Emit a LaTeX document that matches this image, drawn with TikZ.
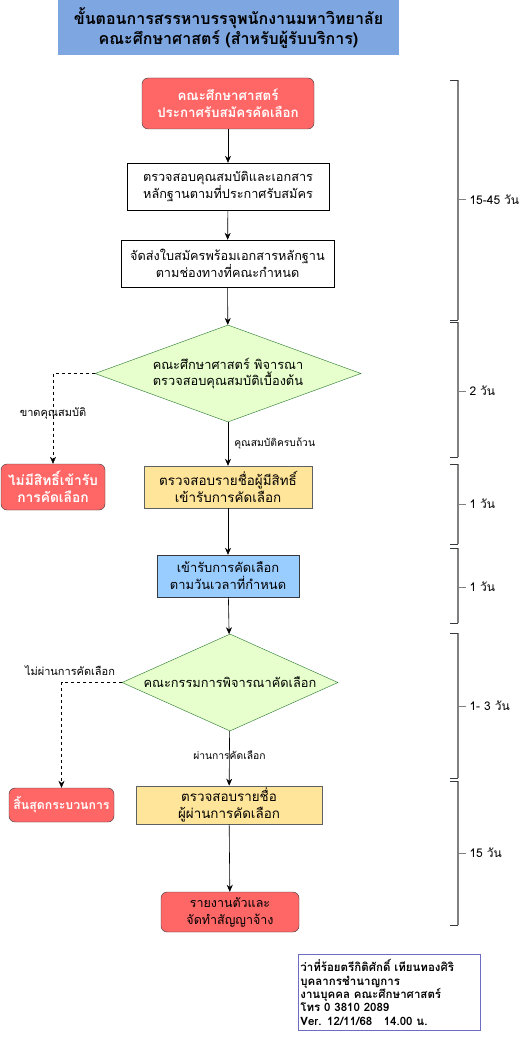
\documentclass[tikz,border=0pt]{standalone}
\usepackage{fontspec}
\setmainfont{Loma}[Script=Thai]
\usepackage{tikz}
\usetikzlibrary{arrows.meta,positioning,shapes.geometric}
\definecolor{titleblue}{HTML}{7EA6E0}
\definecolor{redbox}{HTML}{FF6666}
\definecolor{greenbox}{HTML}{E6FFCC}
\definecolor{yellowbox}{HTML}{FFE599}
\definecolor{bluebox}{HTML}{99CCFF}
\definecolor{darkline}{HTML}{36393D}
\definecolor{sigline}{HTML}{6C6CC4}

\tikzset{
  stepbox/.style={draw=black, fill=white, align=center, inner sep=2pt, font=\fontsize{12.7}{16.7}\selectfont},
  redstep/.style={stepbox, fill=redbox, draw=darkline, rounded corners=6pt, text=white},
  decision/.style={diamond, aspect=2.75, draw=darkline!70!green, fill=greenbox, align=center, inner sep=0pt, font=\fontsize{12.8}{16.7}\selectfont},
  flow/.style={-{Stealth[length=7pt,width=6pt]}, semithick, black},
  noflow/.style={flow, dashed, thin},
  smalllabel/.style={font=\fontsize{10.3}{12}\selectfont, inner sep=1pt},
  spanline/.style={gray, line width=1.3pt}
}

\begin{document}
\begin{tikzpicture}[x=1pt, y=-1pt]
  \useasboundingbox[fill=white] (0,0) rectangle (522,1040);

  % === Title ===
  \node[fill=titleblue, minimum width=341pt, minimum height=55pt, align=center,
        font=\bfseries\fontsize{16}{20}\selectfont] (title) at (228.5,27.5)
    {ขั้นตอนการสรรหาบรรจุพนักงานมหาวิทยาลัย\\คณะศึกษาศาสตร์ (สำหรับผู้รับบริการ)};

  % === Main flow ===
  \node[redstep, minimum width=172pt, minimum height=51pt,
        font=\bfseries\fontsize{13.3}{17}\selectfont] (announce) at (228,103.5)
    {คณะศึกษาศาสตร์\\ประกาศรับสมัครคัดเลือก};
  \node[stepbox, minimum width=202pt, minimum height=47pt] (checkdocs) at (228,186.5)
    {ตรวจสอบคุณสมบัติและเอกสาร\\หลักฐานตามที่ประกาศรับสมัคร};
  \node[stepbox, minimum width=213pt, minimum height=47pt] (senddocs) at (227.5,263.5)
    {จัดส่งใบสมัครพร้อมเอกสารหลักฐาน\\ตามช่องทางที่คณะกำหนด};
  \node[decision, minimum width=266pt, minimum height=97pt] (screen) at (228,373.5)
    {คณะศึกษาศาสตร์ พิจารณา\\ตรวจสอบคุณสมบัติเบื้องต้น};
  \node[redstep, minimum width=104pt, minimum height=46pt,
        font=\bfseries\fontsize{13.8}{17}\selectfont] (noright) at (53,487)
    {ไม่มีสิทธิ์เข้ารับ\\การคัดเลือก};
  \node[stepbox, fill=yellowbox, draw=darkline!80, minimum width=168pt, minimum height=42pt,
        font=\fontsize{13.4}{17}\selectfont] (eligible) at (228,487)
    {ตรวจสอบรายชื่อผู้มีสิทธิ์\\เข้ารับการคัดเลือก};
  \node[stepbox, fill=bluebox, draw=darkline, minimum width=142pt, minimum height=42pt,
        font=\fontsize{12.9}{17}\selectfont] (attend) at (228,576)
    {เข้ารับการคัดเลือก\\ตามวันเวลาที่กำหนด};
  \node[decision, minimum width=216pt, minimum height=97pt, aspect=2.2] (committee) at (230,682.5)
    {คณะกรรมการพิจารณาคัดเลือก};
  \node[redstep, minimum width=105pt, minimum height=34pt,
        font=\bfseries\fontsize{12.3}{15}\selectfont] (endproc) at (61.5,805)
    {สิ้นสุดกระบวนการ};
  \node[stepbox, fill=yellowbox, draw=darkline!80, minimum width=186pt, minimum height=36pt,
        font=\fontsize{13.4}{17}\selectfont] (passed) at (229,805)
    {ตรวจสอบรายชื่อ\\ผู้ผ่านการคัดเลือก};
  \node[redstep, minimum width=138pt, minimum height=40pt, text=black,
        font=\fontsize{12.5}{17}\selectfont] (report) at (230,912)
    {รายงานตัวและ\\จัดทำสัญญาจ้าง};

  % Connectors
  \draw[flow] (announce) -- (checkdocs);
  \draw[flow] (checkdocs) -- (senddocs);
  \draw[flow] (senddocs) -- (screen);
  \draw[flow] (screen) -- node[smalllabel, anchor=west, pos=0.5, xshift=5pt] {คุณสมบัติครบถ้วน} (eligible);
  \draw[noflow] (screen.west) -| node[smalllabel, pos=0.72, font=\fontsize{11}{12}\selectfont] {ขาดคุณสมบัติ} (noright.north);
  \draw[flow] (eligible) -- (attend);
  \draw[flow] (attend) -- (committee);
  \draw[flow] (committee) -- node[smalllabel, pos=0.45] {ผ่านการคัดเลือก} (passed);
  \draw[noflow] (committee.west) -| (endproc.north);
  \node[smalllabel, font=\fontsize{11}{12}\selectfont] (faillabel) at (70,671) {ไม่ผ่านการคัดเลือก};
  \draw[flow] (passed) -- (report);

  % === Time spans on the right ===
  \foreach \top/\bot/\mid/\days in {80/320/200/15-45 วัน, 322/457/391/2 วัน, 464/544/504/1 วัน,
                                    548/623/587/1 วัน, 633/778/706/1- 3 วัน, 781/925/853/15 วัน} {
    \draw[spanline] (458,\top) -- (458,\bot);
    \draw[darkline] (450,\top) -- (458,\top);
    \draw[darkline] (450,\bot) -- (458,\bot);
    \draw[spanline, line width=1pt] (458,\mid) -- (466,\mid)
      node[anchor=west, text=black, font=\fontsize{12}{14}\selectfont, inner sep=3pt] {\days};
  }

  % === Contact note ===
  \node[draw=sigline, thick, align=left, anchor=north west, minimum width=182pt, minimum height=76pt,
        inner sep=2pt, text width=178pt, font=\bfseries\fontsize{11.5}{13.4}\selectfont] (contact) at (298,954)
    {ว่าที่ร้อยตรีกิติศักดิ์ เทียนทองศิริ\\บุคลากรชำนาญการ\\งานบุคคล คณะศึกษาศาสตร์\\โทร 0 3810 2089\\Ver. 12/11/68\quad 14.00 น.};
\end{tikzpicture}
\end{document}
